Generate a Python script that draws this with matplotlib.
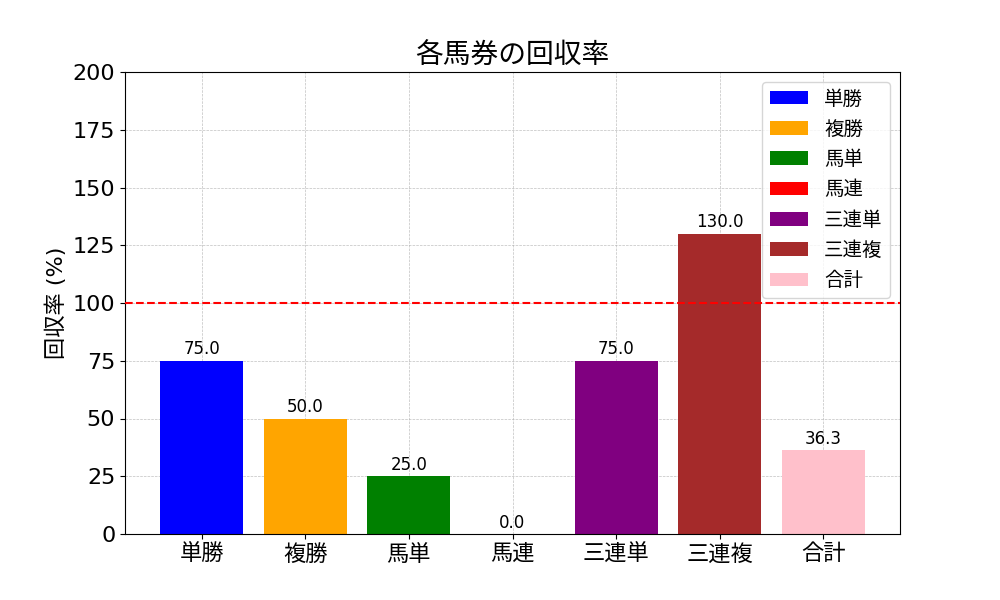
import matplotlib
matplotlib.use("Agg")
import matplotlib.pyplot as plt

plt.rcParams['font.family'] = ['DejaVu Sans', 'Noto Sans CJK JP']

categories = ['単勝', '複勝', '馬単', '馬連', '三連単', '三連複', '合計']
values = [75.0, 50.0, 25.0, 0.0, 75.0, 130.0, 36.3]
colors = ['blue', 'orange', 'green', 'red', 'purple', 'brown', 'pink']

fig, ax = plt.subplots(figsize=(10, 6), dpi=100)
bars = ax.bar(categories, values, color=colors, label=categories, zorder=2)
for b, v in zip(bars, values):
    ax.text(b.get_x() + b.get_width() / 2, v + 1, f'{v:.1f}', ha='center', va='bottom', fontsize=12)
ax.axhline(100, color='red', linestyle='--', linewidth=1.5, zorder=3)
ax.set_ylim(0, 200)
ax.set_title('各馬券の回収率', fontsize=20)
ax.set_ylabel('回収率 (%)', fontsize=16)
ax.tick_params(axis='both', labelsize=16)
ax.grid(True, linestyle='--', linewidth=0.5, alpha=0.8, zorder=0)
ax.set_axisbelow(True)
ax.legend(fontsize=14, loc='upper right', labelspacing=0.58)
fig.savefig('out.png', dpi=100)
